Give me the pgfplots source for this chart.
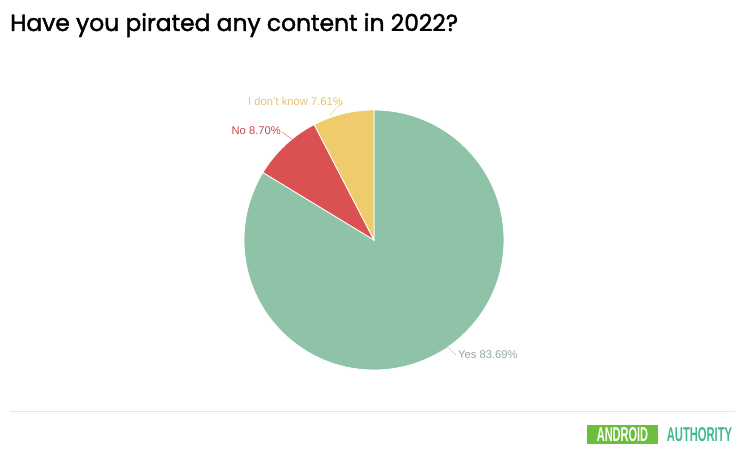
\documentclass[border=0pt]{standalone}
\usepackage{pgfplots}
\usepackage{pgfplotstable}
\pgfplotsset{compat=1.18}
\usepackage{fontspec}
\setmainfont{Liberation Sans}
\newfontfamily\titlefont{Poppins}[FakeBold=1.6]
\definecolor{cYes}{HTML}{8EC3A7}
\definecolor{cNo}{HTML}{DB5151}
\definecolor{cIdk}{HTML}{EECB6B}
\definecolor{tYes}{HTML}{93A79E}
\definecolor{tNo}{HTML}{C94848}
\definecolor{tIdk}{HTML}{E6C46E}
\definecolor{logoG}{HTML}{6DBE3D}
\definecolor{logoT}{HTML}{3DBB8E}
\pgfplotstableread{
label pct
Yes 83.69
No 8.70
Idk 7.61
}\piedata
\begin{document}
\begin{tikzpicture}
\pgfplotstablegetelem{0}{pct}\of\piedata \edef\pYes{\pgfplotsretval}
\pgfplotstablegetelem{1}{pct}\of\piedata \edef\pNo{\pgfplotsretval}
\pgfplotstablegetelem{2}{pct}\of\piedata \edef\pIdk{\pgfplotsretval}
\pgfmathsetmacro\aA{90}
\pgfmathsetmacro\aB{90-3.6*\pYes}
\pgfmathsetmacro\aC{\aB-3.6*\pNo}
\pgfmathsetmacro\aD{\aC-3.6*\pIdk}
\begin{axis}[
  width=750pt, height=459pt, scale only axis,
  xmin=0, xmax=750, ymin=0, ymax=459,
  hide axis, clip=false,
]
\fill[white] (axis cs:0,0) rectangle (axis cs:750,459);
% pie
\def\cx{374}\def\cy{219}\def\R{130pt}
\fill[cYes, draw=white, line width=0.8pt] (axis cs:\cx,\cy) -- ++(\aA:\R) arc[start angle=\aA, end angle=\aB, radius=\R] -- cycle;
\fill[cNo, draw=white, line width=0.8pt] (axis cs:\cx,\cy) -- ++(\aB:\R) arc[start angle=\aB, end angle=\aC, radius=\R] -- cycle;
\fill[cIdk, draw=white, line width=0.8pt] (axis cs:\cx,\cy) -- ++(\aC:\R) arc[start angle=\aC, end angle=\aD, radius=\R] -- cycle;
% leaders
\draw[tIdk!70, line width=0.6pt] (axis cs:330,344) -- (axis cs:337,352) -- (axis cs:343,356);
\draw[tNo!60, line width=0.6pt] (axis cs:293,319) -- (axis cs:286,324) -- (axis cs:282,327);
\draw[tYes!60, line width=0.6pt] (axis cs:437,106) -- (axis cs:448,112) -- (axis cs:456,104);
% labels
\node[anchor=east, text=tIdk, font=\fontsize{11.2}{12}\selectfont, inner sep=0pt] at (axis cs:343,358) {I don't know \pIdk\%};
\node[anchor=east, text=tNo, font=\fontsize{11.2}{12}\selectfont, inner sep=0pt] at (axis cs:281,328) {No \pNo\%};
\node[anchor=west, text=tYes, font=\fontsize{11.2}{12}\selectfont, inner sep=0pt] at (axis cs:458,104) {Yes \pYes\%};
% title
\node[anchor=base west, inner sep=0pt, font=\titlefont\fontsize{23.4}{26}\selectfont] at (axis cs:10,428) {Have you pirated any content in 2022?};
% footer line
\draw[black!10, line width=1pt] (axis cs:10,48) -- (axis cs:735,48);
% logo
\fill[logoG] (axis cs:587,15) rectangle (axis cs:658,34);
\node[anchor=center, text=white, inner sep=0pt, font=\bfseries\fontsize{20}{20}\selectfont] at (axis cs:622.5,24.5) {\scalebox{0.55}[1]{ANDROID}};
\node[anchor=center, text=logoT, inner sep=0pt, font=\bfseries\fontsize{20}{20}\selectfont] at (axis cs:699.5,24.5) {\scalebox{0.56}[1]{AUTHORITY}};
\end{axis}
\end{tikzpicture}
\end{document}
